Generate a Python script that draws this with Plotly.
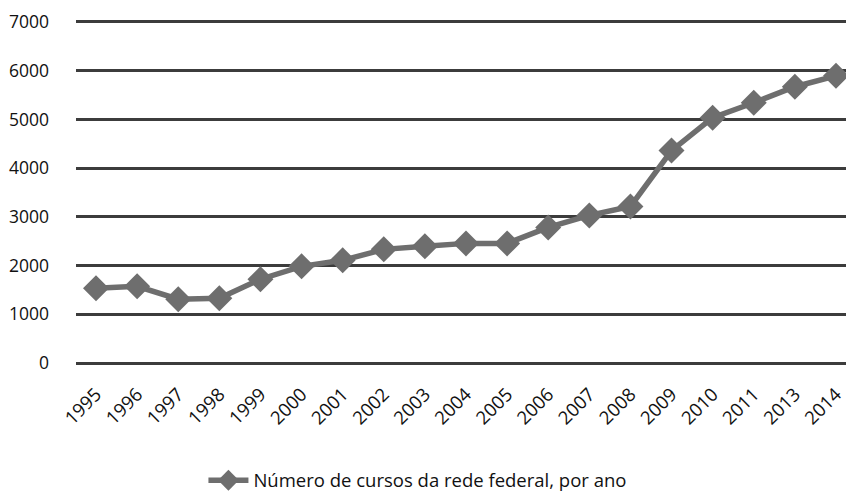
import plotly.graph_objects as go

years = ["1995", "1996", "1997", "1998", "1999", "2000", "2001", "2002", "2003", "2004",
         "2005", "2006", "2007", "2008", "2009", "2010", "2011", "2013", "2014"]
cursos = [1535, 1576, 1310, 1330, 1720, 1985, 2108, 2333, 2395, 2456,
          2456, 2783, 3030, 3213, 4360, 5035, 5342, 5670, 5894]
series_name = "Número de cursos da rede federal, por ano"
y_ticks = [0, 1000, 2000, 3000, 4000, 5000, 6000, 7000]

FONT = "Open Sans, Arial, sans-serif"

fig = go.Figure()
fig.add_trace(go.Scatter(
    x=years, y=cursos, name=series_name, mode="lines+markers",
    line=dict(color="#6e6e6e", width=5.5),
    marker=dict(symbol="diamond", size=20, color="#6e6e6e"),
))

fig.update_layout(
    width=854, height=495,
    margin=dict(l=68, r=10, t=11, b=137),
    paper_bgcolor="white", plot_bgcolor="white",
    font=dict(family=FONT, size=18, color="#111111"),
    showlegend=True,
    legend=dict(orientation="h", x=0.44, xanchor="center", yref="container",
                y=0.045, yanchor="middle", font=dict(size=18.5), itemwidth=40),
    xaxis=dict(type="category", tickangle=-45, showgrid=False, zeroline=False,
               showline=False, ticks="", tickfont=dict(size=18.5), automargin=False,
               ticklabelstandoff=13,
               range=[-0.487, 18.39]),
    yaxis=dict(range=[-60, 7060], tickvals=y_ticks, showgrid=True, gridcolor="#3c3c3c",
               gridwidth=2.5, zeroline=False, showline=False, ticks="", automargin=False,
               ticklabeloverflow="allow",
               tickfont=dict(size=17.5), ticklabelstandoff=26),
)

fig.write_html("out.html")
